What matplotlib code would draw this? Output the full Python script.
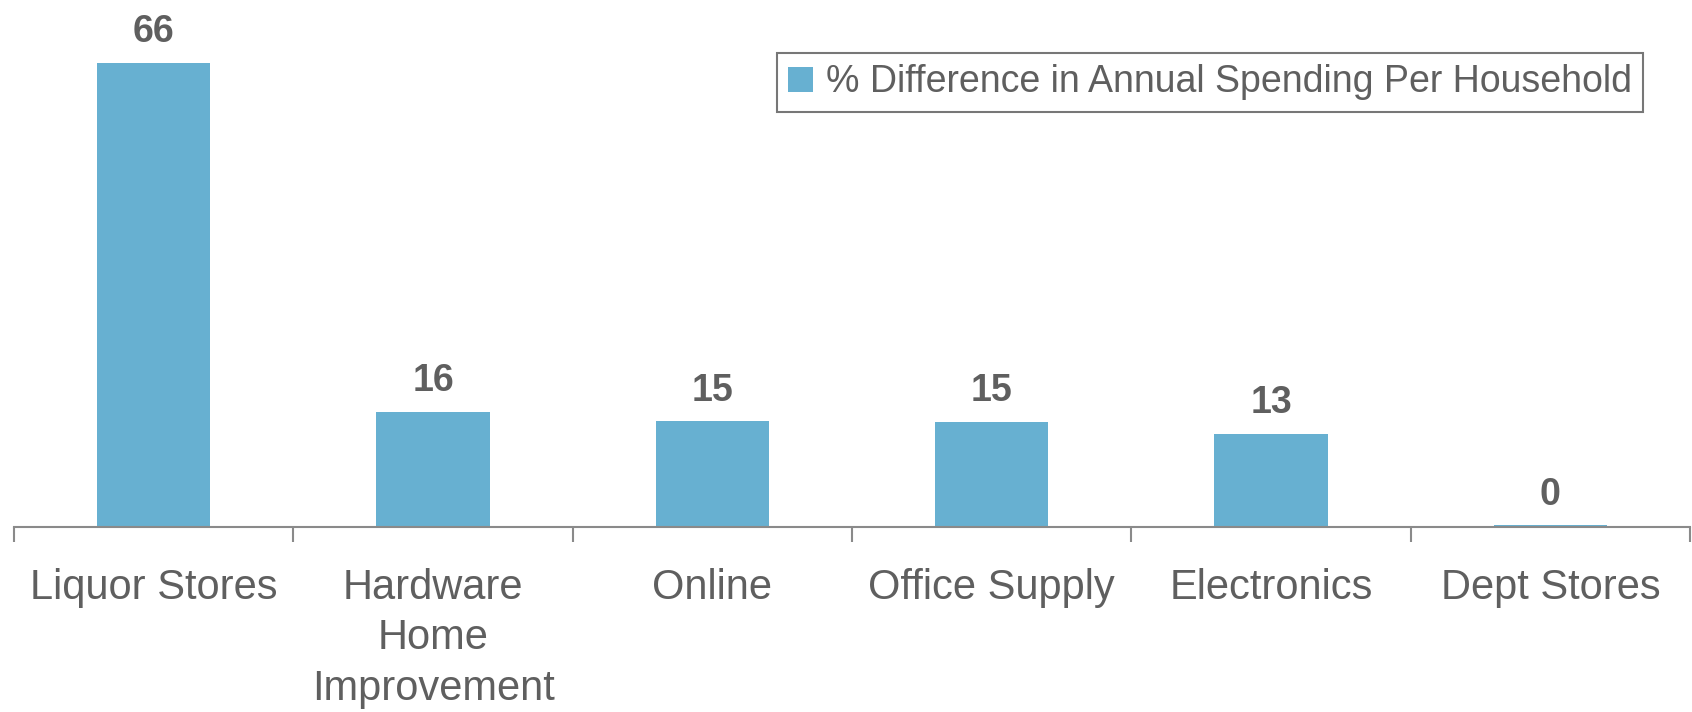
import numpy as np
import matplotlib.pyplot as plt

plt.rcParams["font.family"] = ["Liberation Sans", "DejaVu Sans"]

categorias = [
    "Liquor Stores",
    "Hardware\nHome\nImprovement",
    "Online",
    "Office Supply",
    "Electronics",
    "Dept Stores",
]
valores = [66, 16.3, 15.0, 14.9, 13.2, 0.2]  # % diferença
rotulos = ["66", "16", "15", "15", "13", "0"]

cor_barra = "#67B0D1"
cor_texto = "#5f5f5f"
cor_eixo = "#8a8a8a"

fig = plt.figure(figsize=(16.92, 7.12), dpi=100)
ax = fig.add_axes([14 / 1692, 1 - 526.5 / 712, 1676 / 1692, 492 / 712])

x = np.arange(len(categorias))
barras = ax.bar(
    x,
    valores,
    width=0.405,
    color=cor_barra,
    label="% Difference in Annual Spending Per Household",
)

for b, txt in zip(barras, rotulos):
    ax.annotate(
        txt,
        (b.get_x() + b.get_width() / 2, b.get_height()),
        xytext=(0, 9),
        textcoords="offset points",
        ha="center",
        va="bottom",
        fontsize=27,
        fontweight="bold",
        color=cor_texto,
    )

ax.set_xlim(-0.5, len(categorias) - 0.5)
ax.set_ylim(0, 70)

for lado in ["top", "right", "left"]:
    ax.spines[lado].set_visible(False)
ax.spines["bottom"].set_color(cor_eixo)
ax.spines["bottom"].set_linewidth(1.5)

ax.set_yticks([])
ax.set_xticks(x)
ax.set_xticklabels(categorias, fontsize=30, color=cor_texto, linespacing=1.33)
ax.tick_params(axis="x", which="major", length=0, pad=30)
ax.set_xticks(np.arange(-0.5, len(categorias)), minor=True)
ax.tick_params(axis="x", which="minor", length=11, width=1.5, color=cor_eixo)

leg = fig.legend(
    loc="upper right",
    bbox_to_anchor=(1643 / 1692, 1 - 53 / 712),
    borderaxespad=0,
    fancybox=False,
    fontsize=27,
    handlelength=0.65,
    handleheight=0.65,
    handletextpad=0.35,
    borderpad=0.3,
    labelcolor=cor_texto,
)
leg.get_frame().set_edgecolor("#555555")
leg.get_frame().set_linewidth(1.5)

fig.savefig("out.png", dpi=100)
